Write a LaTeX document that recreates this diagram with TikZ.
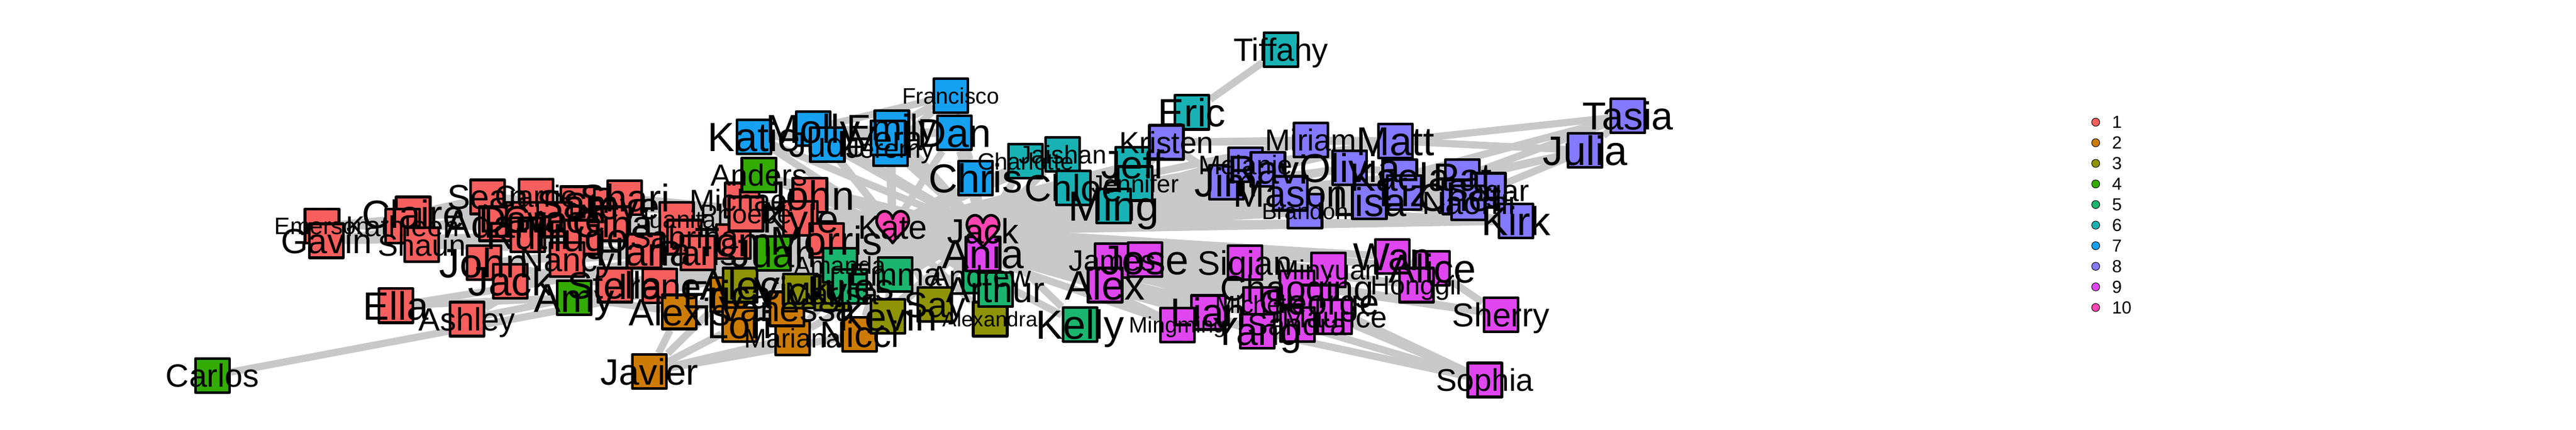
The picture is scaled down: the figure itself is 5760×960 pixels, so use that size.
\documentclass[tikz,border=0pt]{standalone}
\usepackage{fontspec}
\setmainfont{Liberation Sans}
\usetikzlibrary{backgrounds}

\definecolor{col1}{HTML}{F65F5E}
\definecolor{col2}{HTML}{CC7C04}
\definecolor{col3}{HTML}{8F9306}
\definecolor{col4}{HTML}{33AB03}
\definecolor{col5}{HTML}{1AB56E}
\definecolor{col6}{HTML}{19B2B4}
\definecolor{col7}{HTML}{16A0F2}
\definecolor{col8}{HTML}{8479FF}
\definecolor{col9}{HTML}{E046F0}
\definecolor{col10}{HTML}{FE45B3}
\definecolor{tiegray}{HTML}{C8C8C8}

\tikzset{
  guest/.style={draw=black,line width=0.06cm,line join=round,inner sep=0pt,minimum size=0.76cm},
  tie/.style={draw=tiegray,line width=0.16cm},
  namelabel/.style={inner sep=0pt,anchor=base,text=black},
  heartspot/.style={inner sep=0pt,minimum size=0.6cm},
  heartline/.style={draw=black,line width=0.06cm,line join=round,fill=col10},
  legdot/.style={circle,draw=black,line width=0.012cm,inner sep=0pt,minimum size=0.18cm},
  leglabel/.style={inner sep=0pt,anchor=west,font=\fontsize{11.1}{11.1}\selectfont}
}

% id / x / y / table / label size / label
\newcommand{\guestlist}{%
emerson/720/505/1/53/Emerson,gavin/730/538/1/78/Gavin,claire/924/478/1/88/Claire,kathleen/900/505/1/64/Kathleen,%
shaun/943/547/1/68/Shaun,john/1082/587/1/92/John,jackr/1141/628/1/92/Jack,sean/1090/440/1/77/Sean,%
carrie/1199/438/1/68/Carrie,sam/1292/455/1/90/Sam,steve/1367/460/1/85/Steve,shari/1397/442/1/86/Shari,%
adam/1110/500/1/88/Adam,dave/1170/490/1/85/Dave,grace/1240/490/1/85/Grace,gina/1370/500/1/85/Gina,%
ruth/1180/525/1/88/Ruth,hugo/1300/530/1/88/Hugo,juanita/1513/490/1/55/Juanita,sabrina/1530/530/1/70/Sabrina,%
paris/1560/565/1/78/Paris,hana/1440/561/1/90/Hana,tom/1640/540/1/92/Tom,nancy/1268/580/1/75/Nancy,%
michael/1659/447/1/68/Michael,phoebe/1668/478/1/60/Phoebe,johnb/1811/436/1/92/John,kyle/1790/488/1/88/Kyle,%
morris/1848/537/1/90/Morris,stella/1375/637/1/85/Stella,irene/1475/639/1/82/Irene,ella/885/683/1/88/Ella,%
ashley/1044/713/1/72/Ashley,%
alexis/1519/697/2/85/Alexis,erica/1627/658/2/88/Erica,lori/1654/725/2/87/Lori,mariana/1772/755/2/60/Mariana,%
nicci/1922/747/2/82/Nicci,javier/1452/830/2/82/Javier,vanessa/1760/690/2/80/Vanessa,%
alec/1655/637/3/92/Alec,vicky/1790/650/3/88/Vicky,marisa/1860/655/3/70/Marisa,kevin/1985/707/3/88/Kevin,%
say/2090/680/3/80/Say,alexandra/2214/713/3/47/Alexandra,%
amy/1284/665/4/90/Amy,juan/1730/566/4/88/Juan,anders/1697/391/4/68/Anders,carlos/475/839/4/72/Carlos,%
amanda/1878/593/5/55/Amanda,jules/1900/640/5/85/Jules,emma/2002/613/5/72/Emma,andrew/2192/617/5/67/Andrew,%
arthur/2226/647/5/81/Arthur,kelly/2415/725/5/91/Kelly,%
tiffany/2864/111/6/72/Tiffany,eric/2665/251/6/88/Eric,jeff/2533/367/6/89/Jeff,jaishan/2376/345/6/57/Jaishan,%
charlotte/2293/360/6/53/Charlotte,chloe/2400/420/6/84/Chloe,jennifer/2538/410/6/55/Jennifer,ming/2490/460/6/94/Ming,%
katie/1686/306/7/91/Katie,molly/1818/287/7/90/Molly,emily/1994/285/7/82/Emily,dan/2134/297/7/90/Dan,%
francisco/2126/214/7/50/Francisco,jude/1850/323/7/79/Jude,jeremy/1991/332/7/60/Jeremy,vera/1985/308/7/76/Vera,%
chris/2181/398/7/90/Chris,%
kristen/2608/318/8/68/Kristen,jim/2742/407/8/91/Jim,mark/2785/368/8/60/Melanie,ravi/2835/378/8/90/Ravi,%
miriam/2931/313/8/68/Miriam,matt/3120/315/8/90/Matt,olivia/3018/375/8/90/Olivia,kaela/3130/395/8/88/Kaela,%
pat/3270/395/8/88/Pat,liz/3140/430/8/88/Liz,chet/3264/440/8/88/Chet,sagar/3328/425/8/68/Sagar,%
naomi/3284/453/8/72/Naomi,lisa/3062/451/8/90/Lisa,kirk/3390/494/8/90/Kirk,tasia/3640/259/8/87/Tasia,%
julia/3544/336/8/92/Julia,brandon/2918/472/8/51/Brandon,mason/2885/432/8/85/Mason,%
ania/2198/567/9/91/Ania,james/2487/582/9/66/James,jose/2560/580/9/93/Jose,alex/2471/637/9/92/Alex,%
siqian/2784/587/9/76/Siqian,minyuan/2970/603/9/62/Minyuan,wan/3113/573/9/87/Wan,alice/3203/600/9/90/Alice,%
honggil/3167/637/9/60/Honggil,chaoqing/2900/643/9/80/Chaoqing,george/2950/675/9/80/George,michelle/2818/680/9/55/Michelle,%
maurice/2984/708/9/66/Maurice,sandra/2901/725/9/69/Sandra,lian/2702/698/9/90/Lian,mingming/2633/726/9/50/Mingming,%
yang/2811/740/9/88/Yang,sherry/3356/703/9/74/Sherry,sophia/3320/849/9/70/Sophia}

\newcommand{\drawheart}[1]{\draw[heartline,shift={(#1)}] (0,36)
  .. controls (-15,15) and (-36,5) .. (-36,-14)
  .. controls (-36,-28) and (-26,-35) .. (-18,-35)
  .. controls (-9,-35) and (-2,-28) .. (0,-18)
  .. controls (2,-28) and (9,-35) .. (18,-35)
  .. controls (26,-35) and (36,-28) .. (36,-14)
  .. controls (36,5) and (15,15) .. (0,36) -- cycle;}

\begin{document}
\begin{tikzpicture}[x=0.01cm,y=-0.01cm]
  \useasboundingbox (0,0) rectangle (5760,960);

  \foreach \id/\px/\py/\col/\sz/\lab in \guestlist
    \node[guest,fill=col\col] (\id) at (\px,\py) {};

  \node[heartspot] (kateh) at (1996,507) {};
  \node[heartspot] (jackh) at (2198,516) {};
  \drawheart{1996,507}
  \drawheart{2198,516}

  \begin{scope}[on background layer]
    \draw[tie] (kateh) -- (jackh);
    % guests tied to both of the hearts
    \foreach \a in {gavin,claire,kathleen,shaun,john,jackr,sean,carrie,sam,steve,shari,adam,dave,grace,gina,ruth,hugo,
        juanita,sabrina,paris,hana,tom,nancy,michael,phoebe,johnb,kyle,morris,stella,irene,alexis,erica,lori,mariana,
        nicci,vanessa,alec,vicky,marisa,kevin,say,alexandra,amy,juan,anders,amanda,jules,emma,andrew,arthur,kelly,jeff,
        jaishan,charlotte,chloe,jennifer,ming,katie,molly,emily,dan,jude,jeremy,vera,chris,jim,mark,ravi,miriam,matt,
        olivia,kaela,pat,liz,chet,sagar,naomi,lisa,kirk,brandon,mason,ania,james,jose,alex,siqian,minyuan,wan,alice,
        honggil,chaoqing,george,michelle,maurice,sandra,lian,mingming,yang,sherry} {
      \draw[tie] (\a) -- (kateh);
      \draw[tie] (\a) -- (jackh);
    }
    \foreach \a/\b in {carlos/jackh,emerson/shari,emerson/kateh,ella/kateh,ella/amy,ashley/nancy,ashley/amy,claire/sean,
        tiffany/eric,eric/kristen,eric/jeff,eric/ming,kristen/jeff,kristen/miriam,kristen/matt,kristen/jim,
        javier/alexis,javier/erica,javier/lori,javier/mariana,javier/nicci,
        sophia/yang,sophia/sandra,sophia/maurice,sophia/george,
        tasia/matt,tasia/kaela,tasia/pat,tasia/julia,julia/matt,julia/liz,julia/pat,julia/sagar,
        katie/dan,katie/emily,molly/dan,francisco/emily,francisco/molly,francisco/chris,francisco/jeremy,dan/chris,
        miriam/matt,jim/ravi,ravi/matt,olivia/pat,brandon/kirk,lisa/kirk,sagar/kirk,sherry/alice,wan/alice,
        gavin/shari,claire/shari,shaun/hana,john/stella,alexis/irene,alexis/amy,amy/irene} {
      \draw[tie] (\a) -- (\b);
    }
  \end{scope}

  \foreach \id/\px/\py/\col/\sz/\lab in \guestlist {
    \pgfmathsetmacro{\fs}{\sz*0.2845}
    \node[namelabel,yshift={-\sz*0.00358cm},font=\fontsize{\fs}{\fs}\selectfont] (\id-name) at (\id.center) {\lab};
  }
  \node[namelabel,yshift=-0.2685cm,font=\fontsize{21.3}{21.3}\selectfont] (kateh-name) at (kateh.center) {Kate};
  \node[namelabel,yshift=-0.279cm,font=\fontsize{22.2}{22.2}\selectfont] (jackh-name) at (jackh.center) {Jack};

  % legend
  \foreach \n in {1,...,10} {
    \node[legdot,fill=col\n] (leg\n) at (4686,{273+46*(\n-1)}) {};
    \node[leglabel] (legname\n) at (4722,{273+46*(\n-1)}) {\n};
  }
\end{tikzpicture}
\end{document}
